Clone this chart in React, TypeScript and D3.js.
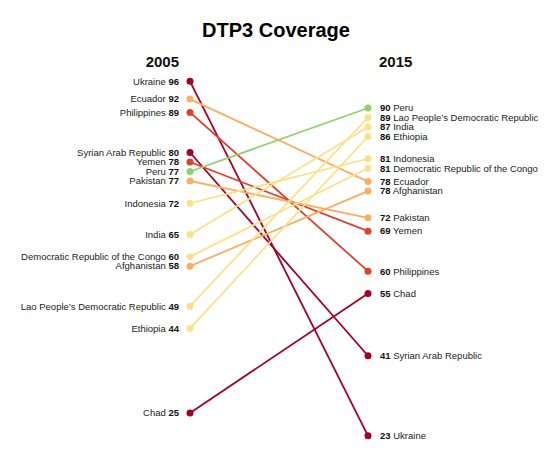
import * as d3 from 'd3';
import * as React from 'react';

const WIDTH = 552;
const HEIGHT = 452;

const countries = [
  'Ukraine',
  'Ecuador',
  'Philippines',
  'Syrian Arab Republic',
  'Yemen',
  'Peru',
  'Pakistan',
  'Indonesia',
  'India',
  'Democratic Republic of the Congo',
  'Afghanistan',
  'Lao People\u2019s Democratic Republic',
  'Ethiopia',
  'Chad',
];
const coverage2005 = [96, 92, 89, 80, 78, 77, 77, 72, 65, 60, 58, 49, 44, 25];
const coverage2015 = [23, 78, 60, 41, 69, 90, 72, 81, 87, 81, 78, 89, 86, 55];
const years = ['2005', '2015'];

const colorThresholds = [60, 70, 80, 90];
const colors = ['#a50026', '#e0412d', '#fdae61', '#fee08b', '#8fd16a'];

const LEFT_X = 190;
const RIGHT_X = 368;
const GAP = 9.5;
const FONT = '"Liberation Sans", Arial, Helvetica, sans-serif';

// walk down the column from the highest value; a label that would sit
// too close to the one above is pushed down, and everything under it follows
function stack(values: number[], y: (v: number) => number, gap: number): number[] {
  const order = d3.range(values.length).sort((a, b) => values[b] - values[a] || a - b);
  const out = new Array(values.length);
  order.forEach((id, k) => {
    if (k === 0) {
      out[id] = y(values[id]);
      return;
    }
    const prev = order[k - 1];
    out[id] = out[prev] + Math.max(gap, y(values[id]) - y(values[prev]));
  });
  return out;
}

export default function App() {
  const y = d3.scaleLinear().domain([0, 100]).range([508.5, 63.5]);
  const color = d3.scaleThreshold<number, string>().domain(colorThresholds).range(colors);

  const leftY = stack(coverage2005, y, GAP);
  const rightY = stack(coverage2015, y, GAP);

  return (
    <svg
      width={WIDTH}
      height={HEIGHT}
      style={{ position: 'absolute', left: 0, top: 0, background: '#fff' }}
      fontFamily={FONT}
    >
      <text x={276} y={37} textAnchor="middle" fontSize={20} fontWeight="bold" fill="#000">
        DTP3 Coverage
      </text>
      <text x={179} y={67} textAnchor="end" fontSize={15} fontWeight="bold" fill="#111">
        {years[0]}
      </text>
      <text x={379} y={67} textAnchor="start" fontSize={15} fontWeight="bold" fill="#111">
        {years[1]}
      </text>

      {countries.map((c, i) => (
        <line
          key={'l' + c}
          x1={LEFT_X}
          y1={leftY[i]}
          x2={RIGHT_X}
          y2={rightY[i]}
          stroke={color(coverage2015[i])}
          strokeWidth={1.8}
        />
      ))}

      {countries.map((c, i) => (
        <g key={'d' + c} fill={color(coverage2015[i])}>
          <circle cx={LEFT_X} cy={leftY[i]} r={3.5} />
          <circle cx={RIGHT_X} cy={rightY[i]} r={3.5} />
        </g>
      ))}

      {countries.map((c, i) => (
        <text
          key={'tl' + c}
          x={179}
          y={leftY[i]}
          dy="0.35em"
          textAnchor="end"
          fontSize={9.5}
          fill="#222"
        >
          {c + ' '}
          <tspan fontWeight="bold" fill="#111">{coverage2005[i]}</tspan>
        </text>
      ))}

      {countries.map((c, i) => (
        <text key={'tr' + c} x={380} y={rightY[i]} dy="0.35em" fontSize={9.5} fill="#222">
          <tspan fontWeight="bold" fill="#111">{coverage2015[i]}</tspan>
          {' ' + c}
        </text>
      ))}
    </svg>
  );
}
